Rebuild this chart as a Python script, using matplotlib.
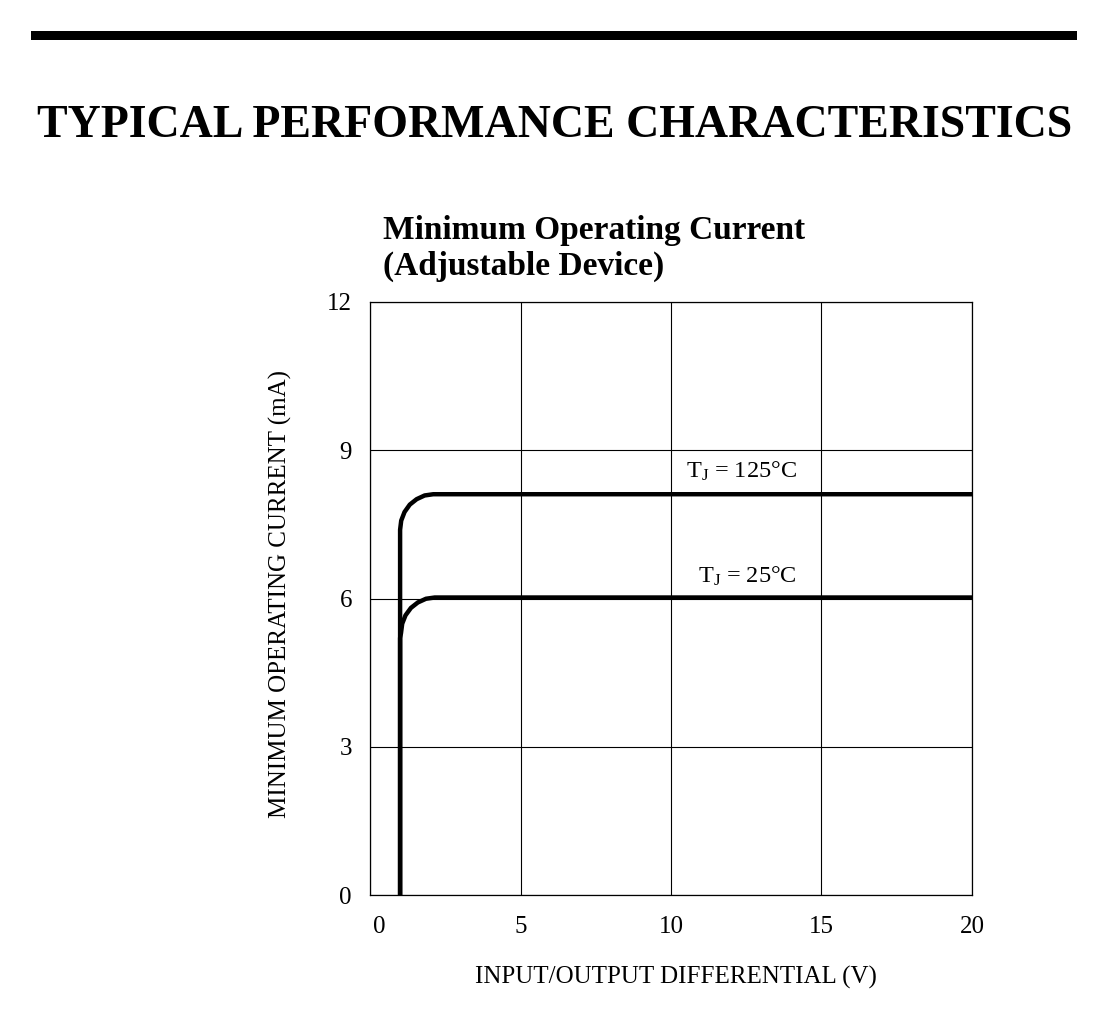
import matplotlib
matplotlib.use("Agg")
import matplotlib.pyplot as plt
from matplotlib.patches import Rectangle
from matplotlib.transforms import ScaledTranslation

plt.rcParams['font.family'] = ['Liberation Serif', 'DejaVu Serif']
plt.rcParams['mathtext.fontset'] = 'custom'
plt.rcParams['mathtext.rm'] = 'Liberation Serif'
plt.rcParams['mathtext.it'] = 'Liberation Serif:italic'
plt.rcParams['mathtext.bf'] = 'Liberation Serif:bold'

# ---- data ----
x_125 = [1.0, 1.0, 1.037, 1.147, 1.322, 1.55, 1.815, 2.1, 20.0]
y_125 = [0.0, 7.39, 7.576, 7.75, 7.90, 8.01, 8.085, 8.11, 8.11]
x_25 = [1.0, 1.0, 1.03, 1.07, 1.18, 1.36, 1.59, 1.86, 2.15, 20.0]
y_25 = [0.0, 5.2, 5.3, 5.49, 5.66, 5.81, 5.92, 5.995, 6.02, 6.02]
x_ticks = [0, 5, 10, 15, 20]
y_ticks = [0, 3, 6, 9, 12]
label_125 = r'$\mathrm{T_J}$ = 125°C'
label_25 = r'$\mathrm{T_J}$ = 25°C'

W, H = 1107, 1019
fig = plt.figure(figsize=(W / 100, H / 100), dpi=100)

def fx(px):
    return px / W

def fy(py):
    return 1 - py / H

# top bar
fig.patches.append(Rectangle((fx(31), fy(40)), fx(1077) - fx(31), fy(31) - fy(40),
                             transform=fig.transFigure, color='black', lw=0))

fig.text(fx(555), fy(137), 'TYPICAL PERFORMANCE CHARACTERISTICS', ha='center', va='baseline',
         fontsize=33, fontweight='bold')
fig.text(fx(383), fy(239), 'Minimum Operating Current', ha='left', va='baseline',
         fontsize=24, fontweight='bold')
fig.text(fx(383), fy(275), '(Adjustable Device)', ha='left', va='baseline',
         fontsize=24, fontweight='bold')

ax = fig.add_axes([fx(370), fy(895), fx(972) - fx(370), fy(302) - fy(895)])
ax.plot(x_125, y_125, color='black', lw=3.2, solid_joinstyle='round', solid_capstyle='butt')
ax.plot(x_25, y_25, color='black', lw=3.2, solid_joinstyle='round', solid_capstyle='butt')

ax.set_xlim(0, 20)
ax.set_ylim(0, 12)
ax.set_xticks(x_ticks)
ax.set_yticks(y_ticks)
ax.set_xticklabels([str(v) for v in x_ticks])
ax.set_yticklabels([str(v) for v in y_ticks])
ax.tick_params(axis='both', length=0, labelsize=18)
ax.tick_params(axis='x', pad=15)
ax.tick_params(axis='y', pad=13)
ax.grid(True, color='black', lw=0.8)
ax.set_axisbelow(True)
for s in ax.spines.values():
    s.set_linewidth(0.9)
    s.set_color('black')

lbl0 = ax.get_xticklabels()[0]
lbl0.set_transform(lbl0.get_transform() + ScaledTranslation(9 / 100, 0, fig.dpi_scale_trans))

ax.text(14.19, 8.44, label_125, ha='right', va='baseline', fontsize=17.5)
ax.text(14.19, 6.32, label_25, ha='right', va='baseline', fontsize=17.5)

fig.text(fx(676), fy(977), 'INPUT/OUTPUT DIFFERENTIAL (V)', ha='center', va='center', fontsize=18)
fig.text(fx(280), fy(594), 'MINIMUM OPERATING CURRENT (mA)', ha='center', va='center',
         rotation=90, fontsize=18)

fig.savefig('out.png', dpi=100)
